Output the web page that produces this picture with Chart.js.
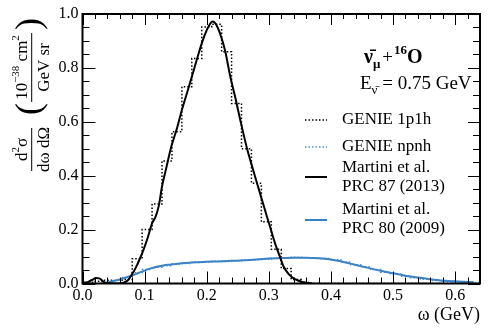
<!DOCTYPE html>
<html><head><meta charset="utf-8">
<script src="https://cdn.jsdelivr.net/npm/chart.js@4/dist/chart.umd.min.js"></script>
<style>html,body{margin:0;padding:0;background:#fff}</style>
</head><body>
<canvas id="c" width="488" height="334" style="display:block;width:488px;height:334px"></canvas>
<script>
// ---------------- data ----------------
const binEdges = [0,0.016,0.032,0.048,0.064,0.08,0.096,0.112,0.128,0.144,0.16,0.176,0.192,0.208,0.224,0.24,0.256,0.272,0.288,0.304,0.32,0.336,0.352,0.368,0.384,0.4,0.416,0.432,0.448,0.464,0.48,0.496,0.512,0.528,0.544,0.56,0.576,0.592,0.608,0.624,0.64];
const genie1p1h = [0,0.008,0.012,0,0.015,0.092,0.2,0.295,0.455,0.563,0.73,0.835,0.952,0.962,0.86,0.668,0.5,0.372,0.229,0.127,0.056,0.015,0.004,0,0,0,0,0,0,0,0,0,0,0,0,0,0,0,0,0];
const genieNpnh = [0,0,0.003,0.012,0.022,0.04,0.052,0.06,0.066,0.072,0.074,0.078,0.08,0.083,0.082,0.084,0.086,0.088,0.09,0.094,0.095,0.097,0.096,0.095,0.093,0.088,0.08,0.07,0.062,0.052,0.042,0.035,0.027,0.021,0.016,0.011,0.008,0.006,0.005,0.003];
const martini87X = [0,0.008,0.015,0.022,0.027,0.032,0.037,0.045,0.06,0.067,0.073,0.08,0.086,0.092,0.098,0.105,0.112,0.118,0.123,0.128,0.135,0.143,0.152,0.16,0.168,0.176,0.184,0.192,0.2,0.205,0.209,0.213,0.218,0.224,0.23,0.238,0.246,0.254,0.265,0.273,0.281,0.289,0.297,0.304,0.31,0.317,0.324,0.332,0.34,0.347,0.354,0.362,0.37];
const martini87Y = [0.004,0.005,0.013,0.02,0.019,0.01,0.002,0,0,0.004,0.012,0.035,0.06,0.09,0.124,0.17,0.223,0.25,0.29,0.36,0.43,0.508,0.575,0.644,0.705,0.767,0.83,0.891,0.94,0.962,0.972,0.968,0.948,0.91,0.86,0.767,0.69,0.607,0.5,0.435,0.372,0.31,0.248,0.195,0.149,0.105,0.062,0.035,0.019,0.011,0.006,0.002,0];
const martini80X = [0.03,0.04,0.05,0.06,0.07,0.08,0.09,0.1,0.11,0.12,0.13,0.14,0.16,0.18,0.2,0.22,0.24,0.26,0.28,0.3,0.32,0.34,0.36,0.38,0.4,0.42,0.44,0.46,0.48,0.5,0.52,0.54,0.56,0.58,0.6,0.62,0.63];
const martini80Y = [0,0.004,0.009,0.015,0.022,0.03,0.039,0.048,0.056,0.062,0.067,0.07,0.075,0.079,0.081,0.082,0.084,0.086,0.089,0.093,0.095,0.096,0.096,0.094,0.089,0.08,0.069,0.058,0.047,0.038,0.029,0.022,0.016,0.011,0.008,0.006,0.005];
const seriesLabels = ["GENIE 1p1h","GENIE npnh",["Martini et al.","PRC 87 (2013)"],["Martini et al.","PRC 80 (2009)"]];
const xAxisTitle = "ω (GeV)";
const xRange = [0, 0.64];
const yRange = [0, 1.0];

// ---------------- helpers ----------------
const SERIF = '"Liberation Serif","Times New Roman",serif';
const fnt = (s, b) => (b ? 'bold ' : '') + s + 'px ' + SERIF;
const BLUE = '#3b82c4', BLUE_DOT = '#4f93d3';
function hist(vals){ const pts = vals.map((v,i)=>({x:binEdges[i], y:v})); pts.push({x:binEdges[vals.length], y:vals[vals.length-1]}); return pts; }
function curve(xs, ys){ return xs.map((x,i)=>({x, y:ys[i]})); }
function runW(ctx, parts){ let w=0; for(const p of parts){ ctx.font=p.f; w+=ctx.measureText(p.t).width+(p.g||0);} return w; }
function run(ctx, parts, x, y){ let cx=x; for(const p of parts){ ctx.font=p.f; ctx.fillText(p.t, cx, y+(p.dy||0)); cx+=ctx.measureText(p.t).width+(p.g||0);} return cx; }
function runC(ctx, parts, cx, y){ return run(ctx, parts, cx - runW(ctx, parts)/2, y); }

const deco = {
  id:'deco',
  afterDraw(chart){
    const ctx = chart.ctx, a = chart.chartArea, xs = chart.scales.x, ys = chart.scales.y;
    ctx.save();
    ctx.strokeStyle='#000'; ctx.fillStyle='#000';
    // ticks
    ctx.lineWidth=1;
    ctx.beginPath();
    for(let k=0;k<=32;k++){
      const px = Math.round(xs.getPixelForValue(k*0.02))+0.5, maj = k%5===0;
      ctx.moveTo(px,a.bottom); ctx.lineTo(px,a.bottom-(maj?12:6));
      ctx.moveTo(px,a.top); ctx.lineTo(px,a.top+(maj?11:5));
    }
    for(let k=0;k<=20;k++){
      const py = Math.round(ys.getPixelForValue(k*0.05))+0.5, maj = k%4===0;
      ctx.moveTo(a.left,py); ctx.lineTo(a.left+(maj?13:7),py);
      ctx.moveTo(a.right,py); ctx.lineTo(a.right-(maj?12:7),py);
    }
    ctx.stroke();
    // frame
    ctx.lineWidth=2;
    ctx.strokeRect(a.left, a.top, a.right-a.left, a.bottom-a.top);

    // x title
    ctx.textBaseline='middle'; ctx.textAlign='right';
    ctx.font=fnt(18); ctx.fillText(xAxisTitle, a.right, 315);
    ctx.textAlign='left'; ctx.textBaseline='alphabetic';

    // y title (rotated)
    ctx.save();
    ctx.translate(31.7, 172); ctx.rotate(-Math.PI/2);
    ctx.lineWidth=1;
    ctx.beginPath(); ctx.moveTo(1,0); ctx.lineTo(44,0); ctx.stroke();
    runC(ctx,[{t:'d',f:fnt(17)},{t:'2',f:fnt(11),dy:-8},{t:'σ',f:fnt(17)}],22.5,-4.5);
    runC(ctx,[{t:'dω dΩ',f:fnt(17)}],22.5,17);
    ctx.font=fnt(36); ctx.fillText('(',57,8);
    ctx.beginPath(); ctx.moveTo(70,0); ctx.lineTo(139,0); ctx.stroke();
    runC(ctx,[{t:'10',f:fnt(17)},{t:'−38',f:fnt(11),dy:-8},{t:' cm',f:fnt(17)},{t:'2',f:fnt(11),dy:-8}],104.5,-4.5);
    runC(ctx,[{t:'GeV sr',f:fnt(17)}],104.5,17);
    ctx.font=fnt(36); ctx.fillText(')',142,8);
    ctx.restore();

    // annotation
    run(ctx,[{t:'ν̄',f:fnt(20,true)},{t:'μ',f:fnt(13,true),dy:5,g:2},{t:'+',f:fnt(19),g:1},{t:'16',f:fnt(13,true),dy:-9},{t:'O',f:fnt(20,true)}],364,63);
    run(ctx,[{t:'E',f:fnt(19)},{t:'ν̄',f:fnt(13),dy:5},{t:' = 0.75 GeV',f:fnt(19)}],360,89);

    // legend
    const lx0=305, lx1=327, tx=342;
    const items=[
      {y:120, c:'#000', dash:true, lines:[seriesLabels[0]], ty:[120]},
      {y:147, c:BLUE_DOT, dash:true, lines:[seriesLabels[1]], ty:[147]},
      {y:177, c:'#000', dash:false, lines:seriesLabels[2], ty:[168,186.5]},
      {y:220, c:BLUE, dash:false, lines:seriesLabels[3], ty:[210,228.5]},
    ];
    for(const it of items){
      ctx.beginPath(); ctx.strokeStyle=it.c;
      if(it.dash){ ctx.setLineDash([1.5,2]); ctx.lineWidth=1.5; } else { ctx.setLineDash([]); ctx.lineWidth=2; }
      ctx.moveTo(lx0,it.y); ctx.lineTo(lx1,it.y); ctx.stroke();
      ctx.setLineDash([]);
      ctx.font=fnt(17); ctx.textBaseline='middle'; ctx.fillStyle='#000';
      it.lines.forEach((l,i)=>ctx.fillText(l, tx, it.ty[i]));
    }
    ctx.restore();
  }
};

new Chart(document.getElementById('c'), {
  type:'scatter',
  data:{ datasets:[
    {label:'GENIE 1p1h', data:hist(genie1p1h), showLine:true, stepped:'before', borderColor:'#000', borderWidth:1.5, borderDash:[1.5,2], pointRadius:0, order:2},
    {label:'GENIE npnh', data:hist(genieNpnh), showLine:true, stepped:'before', borderColor:BLUE_DOT, borderWidth:1.5, borderDash:[1.5,2], pointRadius:0, order:2},
    {label:'Martini et al. PRC 87 (2013)', data:curve(martini87X, martini87Y), showLine:true, borderColor:'#000', borderWidth:2, pointRadius:0, cubicInterpolationMode:'monotone', order:0},
    {label:'Martini et al. PRC 80 (2009)', data:curve(martini80X, martini80Y), showLine:true, borderColor:BLUE, borderWidth:2, pointRadius:0, cubicInterpolationMode:'monotone', order:1},
  ]},
  options:{
    responsive:false, animation:false, devicePixelRatio:1,
    layout:{padding:{left:0,right:8,top:14,bottom:0}},
    plugins:{legend:{display:false}, tooltip:{enabled:false}},
    scales:{
      x:{type:'linear', min:xRange[0], max:xRange[1],
         grid:{display:false, drawTicks:false}, border:{display:false},
         ticks:{stepSize:0.1, includeBounds:false, padding:3, color:'#000', font:{family:SERIF, size:16}, maxRotation:0, callback:v=>Number(v).toFixed(1)},
         afterFit(s){ s.height = 50.5; }},
      y:{type:'linear', min:yRange[0], max:yRange[1],
         grid:{display:false, drawTicks:false}, border:{display:false},
         ticks:{stepSize:0.2, padding:4, color:'#000', font:{family:SERIF, size:16}, callback:v=>Number(v).toFixed(1)},
         afterFit(s){ s.width = 82.5; }}
    }
  },
  plugins:[deco]
});
</script>
</body></html>
